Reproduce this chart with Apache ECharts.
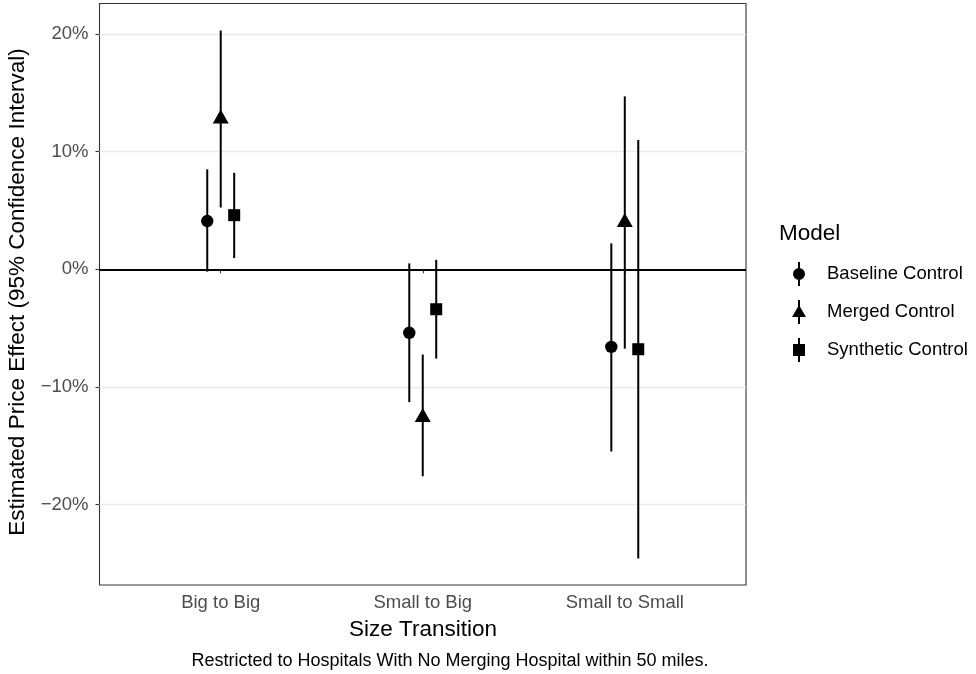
<!DOCTYPE html>
<html>
<head>
<meta charset="utf-8">
<script src="https://cdn.jsdelivr.net/npm/echarts@6/dist/echarts.min.js"></script>
<style>
  html, body { margin: 0; padding: 0; background: #ffffff; }
  #chart { width: 976px; height: 674px; }
</style>
</head>
<body>
<div id="chart"></div>
<script>
// Size transitions along the x axis
const categories = ['Big to Big', 'Small to Big', 'Small to Small'];

// Estimated price effect (%) with 95% confidence bounds, per model
const baselineEst = [4.1, -5.4, -6.6];
const baselineLo  = [-0.2, -11.3, -15.5];
const baselineHi  = [8.5, 0.5, 2.2];

const mergedEst = [12.8, -12.6, 4.0];
const mergedLo  = [5.25, -17.6, -6.75];
const mergedHi  = [20.3, -7.25, 14.7];

const syntheticEst = [4.6, -3.4, -6.8];
const syntheticLo  = [0.95, -7.6, -24.6];
const syntheticHi  = [8.2, 0.8, 11.0];

const modelNames = ['Baseline Control', 'Merged Control', 'Synthetic Control'];
const yTicks = [-20, -10, 0, 10, 20];

const FONT = '"Liberation Sans", Arial, Helvetica, sans-serif';
const TEXT_SIZE = 18.5;
const CAPTION_SIZE = 18;
const TITLE_SIZE = 22.5;
const dodgeWidth = 0.2;

const models = [
  { name: modelNames[0], est: baselineEst, lo: baselineLo, hi: baselineHi, shape: 'circle',
    icon: 'path://M7 0H9V24H7Z M2 12A6 6 0 1 1 14 12A6 6 0 1 1 2 12Z' },
  { name: modelNames[1], est: mergedEst, lo: mergedLo, hi: mergedHi, shape: 'triangle',
    icon: 'path://M7 0H9V24H7Z M8 5L15 17L1 17Z' },
  { name: modelNames[2], est: syntheticEst, lo: syntheticLo, hi: syntheticHi, shape: 'square',
    icon: 'path://M7 0H9V24H7Z M2 6H14V18H2Z' }
];

function pctLabel(v) {
  return (v < 0 ? '\u2212' + Math.abs(v) : String(v)) + '%';
}

// Point-range glyph: vertical CI segment plus the point marker
function makeRenderItem(shape) {
  return function (params, api) {
    const x = api.value(0);
    const pEst = api.coord([x, api.value(1)]);
    const pLo = api.coord([x, api.value(2)]);
    const pHi = api.coord([x, api.value(3)]);
    const children = [{
      type: 'line',
      shape: { x1: pLo[0], y1: pLo[1], x2: pHi[0], y2: pHi[1] },
      style: { stroke: '#000000', lineWidth: 2 }
    }];
    const cx = pEst[0], cy = pEst[1];
    if (shape === 'circle') {
      children.push({ type: 'circle', shape: { cx: cx, cy: cy, r: 6.2 }, style: { fill: '#000000' } });
    } else if (shape === 'triangle') {
      // centroid sits on the estimate
      const h = 14, w = 16;
      children.push({
        type: 'polygon',
        shape: { points: [[cx, cy - h * 2 / 3], [cx + w / 2, cy + h / 3], [cx - w / 2, cy + h / 3]] },
        style: { fill: '#000000' }
      });
    } else {
      const s = 12;
      children.push({ type: 'rect', shape: { x: cx - s / 2, y: cy - s / 2, width: s, height: s }, style: { fill: '#000000' } });
    }
    return { type: 'group', children: children };
  };
}

const n = models.length;
const series = models.map(function (m, k) {
  const offset = (k - (n - 1) / 2) * dodgeWidth / n;
  const data = categories.map(function (c, i) {
    return [i + 1 + offset, m.est[i], m.lo[i], m.hi[i]];
  });
  return {
    type: 'custom',
    name: m.name,
    renderItem: makeRenderItem(m.shape),
    encode: { x: 0, y: [1, 2, 3] },
    data: data,
    z: 5
  };
});

// Reference lines: light grid and the zero line
series.push({
  type: 'line',
  name: 'refs',
  data: [],
  silent: true,
  markLine: {
    silent: true,
    symbol: 'none',
    label: { show: false },
    data: yTicks.filter(function (t) { return t !== 0; }).map(function (t) {
      return { yAxis: t, lineStyle: { color: '#ebebeb', width: 1.3, type: 'solid' } };
    }).concat([{ yAxis: 0, lineStyle: { color: '#000000', width: 1.8, type: 'solid' } }])
  },
  z: 1
});

const chart = echarts.init(document.getElementById('chart'), null, { renderer: 'canvas' });
chart.setOption({
  backgroundColor: '#ffffff',
  animation: false,
  grid: {
    left: 99.5, right: 230, top: 3.5, bottom: 89,
    show: true, borderColor: '#333333', borderWidth: 1.1, backgroundColor: 'transparent'
  },
  xAxis: {
    type: 'value',
    min: 0.4, max: 3.6,
    axisLine: { show: false },
    splitLine: { show: false },
    axisTick: { show: true, length: 4, lineStyle: { color: '#333333', width: 1.1 }, customValues: [1, 2, 3] },
    axisLabel: {
      customValues: [1, 2, 3],
      formatter: function (v) { return categories[Math.round(v) - 1]; },
      color: '#4d4d4d', fontSize: TEXT_SIZE, fontFamily: FONT, margin: 8
    }
  },
  yAxis: {
    type: 'value',
    min: -26.85, max: 22.6,
    axisLine: { show: false },
    splitLine: { show: false },
    axisTick: { show: true, length: 4, lineStyle: { color: '#333333', width: 1.1 }, customValues: yTicks },
    axisLabel: {
      customValues: yTicks,
      formatter: pctLabel,
      color: '#4d4d4d', fontSize: TEXT_SIZE, fontFamily: FONT, margin: 11
    }
  },
  legend: {
    orient: 'vertical',
    left: 792, top: 262,
    itemWidth: 46, itemHeight: 24, itemGap: 14,
    padding: 0,
    selectedMode: false,
    textStyle: { fontSize: TEXT_SIZE, color: '#000000', fontFamily: FONT },
    data: models.map(function (m) {
      return { name: m.name, icon: m.icon, itemStyle: { color: '#000000' } };
    })
  },
  graphic: [
    { type: 'text', x: 779, y: 234, style: { text: 'Model', fontSize: TITLE_SIZE, fill: '#000000', fontFamily: FONT, align: 'left', verticalAlign: 'middle' } },
    { type: 'text', x: 423, y: 630, style: { text: 'Size Transition', fontSize: TITLE_SIZE, fill: '#000000', fontFamily: FONT, align: 'center', verticalAlign: 'middle' } },
    { type: 'text', x: 450, y: 661, style: { text: 'Restricted to Hospitals With No Merging Hospital within 50 miles.', fontSize: CAPTION_SIZE, fill: '#000000', fontFamily: FONT, align: 'center', verticalAlign: 'middle' } },
    { type: 'text', x: 18, y: 292, rotation: Math.PI / 2, style: { text: 'Estimated Price Effect (95% Confidence Interval)', fontSize: TITLE_SIZE, fill: '#000000', fontFamily: FONT, align: 'center', verticalAlign: 'middle' } }
  ],
  series: series
});
</script>
</body>
</html>
